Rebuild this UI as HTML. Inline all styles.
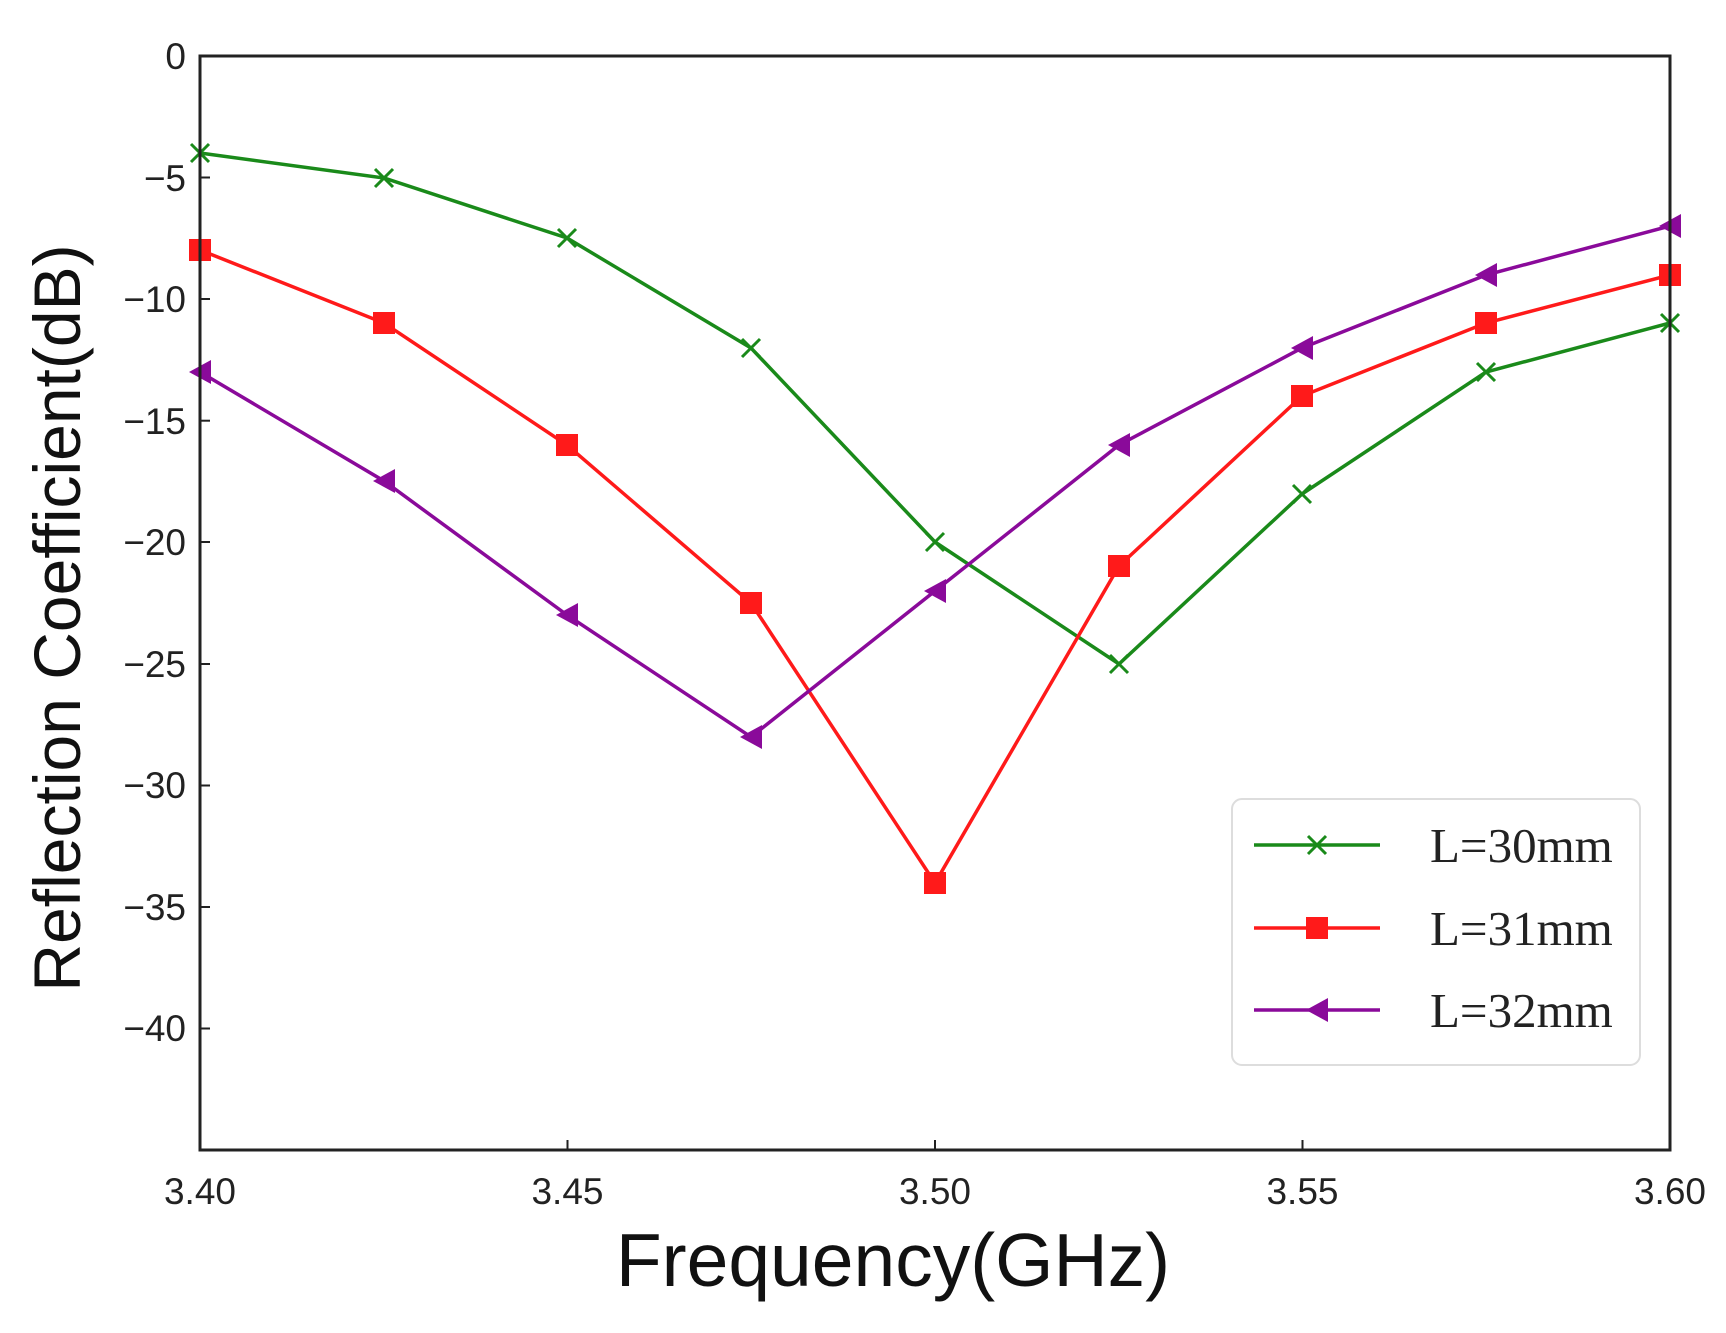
<!DOCTYPE html>
<html><head><style>body{margin:0;background:#fff}</style></head><body>
<svg width="1726" height="1328" xmlns="http://www.w3.org/2000/svg" font-family="Liberation Sans, sans-serif">
<rect width="1726" height="1328" fill="#fff"/>
<g font-size="37" fill="#222" text-anchor="end">
<text x="186" y="69">0</text>
<text x="186" y="191">−5</text>
<text x="186" y="312">−10</text>
<text x="186" y="434">−15</text>
<text x="186" y="555">−20</text>
<text x="186" y="677">−25</text>
<text x="186" y="798">−30</text>
<text x="186" y="920">−35</text>
<text x="186" y="1041">−40</text>
</g>
<g stroke="#222" stroke-width="2">
<line x1="200" y1="177.5" x2="210" y2="177.5"/><line x1="200" y1="299" x2="210" y2="299"/>
<line x1="200" y1="420.7" x2="210" y2="420.7"/><line x1="200" y1="542" x2="210" y2="542"/>
<line x1="200" y1="664" x2="210" y2="664"/><line x1="200" y1="785.5" x2="210" y2="785.5"/>
<line x1="200" y1="907" x2="210" y2="907"/><line x1="200" y1="1028.5" x2="210" y2="1028.5"/>
<line x1="567.5" y1="1150" x2="567.5" y2="1140"/><line x1="935" y1="1150" x2="935" y2="1140"/>
<line x1="1302.5" y1="1150" x2="1302.5" y2="1140"/>
</g>
<g font-size="37" fill="#222" text-anchor="middle">
<text x="200" y="1204">3.40</text><text x="567.5" y="1204">3.45</text><text x="935" y="1204">3.50</text>
<text x="1302.5" y="1204">3.55</text><text x="1670" y="1204">3.60</text>
</g>
<text x="893" y="1286" font-size="75" text-anchor="middle" fill="#111">Frequency(GHz)</text>
<text transform="translate(80,618) rotate(-90)" font-size="66" text-anchor="middle" fill="#111">Reflection Coefficient(dB)</text>
<polyline fill="none" stroke="#1a8a1a" stroke-width="3.5" points="200,153 384,178 567,238 751,348 935,542 1119,664 1302,494 1486,372 1670,323"/>
<polyline fill="none" stroke="#ff1a1a" stroke-width="3.5" points="200,250 384,323 567,445 751,603 935,883 1119,566 1302,396 1486,323 1670,275"/>
<polyline fill="none" stroke="#8a0a9a" stroke-width="3.5" points="200,372 384,481 567,615 751,737 935,591 1119,445 1302,348 1486,275 1670,226"/>
<g stroke="#1a8a1a" stroke-width="3">
<path d="M191,144l18,18M209,144l-18,18M375,169l18,18M393,169l-18,18M558,229l18,18M576,229l-18,18M742,339l18,18M760,339l-18,18M926,533l18,18M944,533l-18,18M1110,655l18,18M1128,655l-18,18M1293,485l18,18M1311,485l-18,18M1477,363l18,18M1495,363l-18,18M1661,314l18,18M1679,314l-18,18"/>
</g>
<g fill="#ff1a1a">
<rect x="189" y="239" width="22" height="22"/><rect x="373" y="312" width="22" height="22"/><rect x="556" y="434" width="22" height="22"/><rect x="740" y="592" width="22" height="22"/><rect x="924" y="872" width="22" height="22"/><rect x="1108" y="555" width="22" height="22"/><rect x="1291" y="385" width="22" height="22"/><rect x="1475" y="312" width="22" height="22"/><rect x="1659" y="264" width="22" height="22"/>
</g>
<g fill="#8a0a9a">
<path d="M189,372l22,-12v24z"/><path d="M373,481l22,-12v24z"/><path d="M556,615l22,-12v24z"/><path d="M740,737l22,-12v24z"/><path d="M924,591l22,-12v24z"/><path d="M1108,445l22,-12v24z"/><path d="M1291,348l22,-12v24z"/><path d="M1475,275l22,-12v24z"/><path d="M1659,226l22,-12v24z"/>
</g>
<rect x="1232" y="799" width="408" height="266" rx="10" fill="#fff" fill-opacity="0.9" stroke="#ddd" stroke-width="2"/>
<line x1="1254" y1="845" x2="1380" y2="845" stroke="#1a8a1a" stroke-width="3.5"/>
<path d="M1308,836l18,18M1326,836l-18,18" stroke="#1a8a1a" stroke-width="3"/>
<line x1="1254" y1="928" x2="1380" y2="928" stroke="#ff1a1a" stroke-width="3.5"/>
<rect x="1306" y="917" width="22" height="22" fill="#ff1a1a"/>
<line x1="1254" y1="1010" x2="1380" y2="1010" stroke="#8a0a9a" stroke-width="3.5"/>
<path d="M1306,1010l22,-12v24z" fill="#8a0a9a"/>
<g font-family="Liberation Serif, serif" font-size="49" fill="#222">
<text x="1430" y="862">L=30mm</text><text x="1430" y="945">L=31mm</text><text x="1430" y="1027">L=32mm</text>
</g>
<rect x="200" y="56" width="1470" height="1094" fill="none" stroke="#222" stroke-width="3"/>
</svg>
</body></html>
